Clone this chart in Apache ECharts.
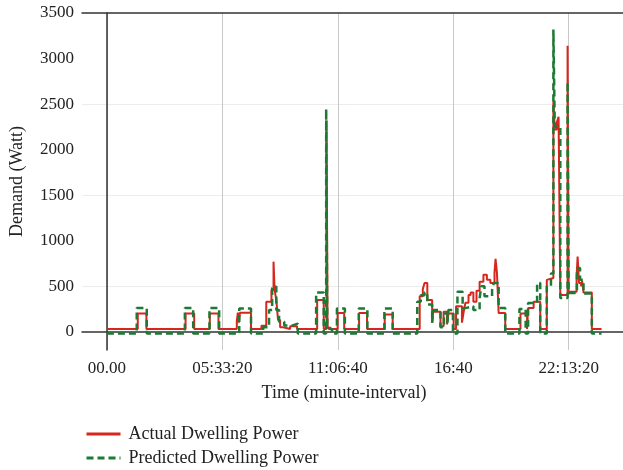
<!DOCTYPE html>
<html>
<head>
<meta charset="utf-8">
<script src="https://cdn.jsdelivr.net/npm/echarts@6/dist/echarts.min.js"></script>
<style>
  html, body { margin: 0; padding: 0; background: #ffffff; }
  #chart { width: 623px; height: 470px; }
</style>
</head>
<body>
<div id="chart"></div>
<script>
// Household power demand over one day: measured vs. model output (W).
// Each entry marks the time (HH:MM) at which a new level begins.
const actualTimes = [
  '00:00','01:29','01:54','03:47','04:12','04:57','05:22','06:15','06:18','06:21',
  '06:24','06:56','07:26','07:40','07:55','08:01','08:04','08:09','08:14','08:20',
  '08:29','08:49','09:09','10:07','10:26','10:34','10:37','10:41','11:06','11:25',
  '12:08','12:31','13:22','13:45','15:03','15:12','15:17','15:25','15:39','15:42',
  '16:03','16:12','16:22','16:26','16:41','16:48','17:05','17:10','17:15','17:24',
  '17:30','17:38','17:47','17:56','18:07','18:17','18:27','18:39','18:42','18:46',
  '18:51','19:10','19:54','20:13','20:16','20:32','20:51','21:10','21:15','21:29',
  '21:33','21:39','21:44','21:49','22:10','22:13','22:36','22:39','22:43','22:49',
  '22:52','22:56','23:20','23:48'
];
const actualWatts = [
  30, 200, 30, 200, 30, 200, 30, 120, 210, 100,
  210, 30, 65, 330, 460, 770, 460, 350, 130, 50,
  30, 60, 30, 350, 30, 2320, 60, 30, 205, 30,
  205, 30, 190, 30, 390, 470, 535, 350, 100, 220,
  60, 220, 80, 200, 30, 280, 100, 220, 320, 405,
  430, 330, 450, 550, 625, 570, 535, 650, 800, 650,
  205, 30, 200, 30, 260, 330, 30, 570, 590, 2545,
  2220, 2300, 2360, 405, 3140, 440, 600, 825, 535, 500,
  560, 430, 30, 30
];

const predictedTimes = [
  '00:00','01:26','01:55','03:45','04:09','04:56','05:24','06:22','06:56','07:31',
  '07:48','07:57','08:03','08:09','08:17','08:32','08:56','09:11','10:04','10:26',
  '10:33','10:36','10:44','10:50','11:04','11:27','12:07','12:32','13:21','13:45',
  '14:56','15:06','15:17','15:25','15:39','15:42','16:03','16:13','16:23','16:26',
  '16:39','16:52','17:07','17:15','17:38','17:56','18:01','18:10','18:32','18:37',
  '18:51','19:10','19:51','20:09','20:16','20:42','20:51','21:10','21:22','21:29',
  '21:33','21:49','22:10','22:13','22:37','22:46','22:56','23:20','23:48'
];
const predictedWatts = [
  -20, 260, -20, 260, -20, 260, -20, 255, -20, 50,
  240, 480, 500, 240, 110, 70, 90, -20, 430, -20,
  2445, 80, 30, -20, 255, -20, 255, -20, 255, -20,
  330, 400, 430, 300, 100, 240, 50, 200, 100, 240,
  -20, 440, 260, 280, 240, 370, 500, 390, 460, 535,
  260, -20, 250, -20, 315, 535, -20, 500, 640, 3320,
  2250, 370, 2745, 425, 700, 570, 420, -20, -20
];

// Axis ticks (time in seconds since midnight, demand in W)
const timeTicks = [0, 20000, 40000, 60000, 80000];
const timeTickLabels = ['00.00', '05:33:20', '11:06:40', '16:40', '22:13:20'];
const demandTicks = [0, 500, 1000, 1500, 2000, 2500, 3000, 3500];
const demandGridLines = [500, 1500, 2500];

const SERIES_NAMES = ['Actual Dwelling Power', 'Predicted Dwelling Power'];

function toSeconds(hhmm) {
  const [h, m] = hhmm.split(':').map(Number);
  return h * 3600 + m * 60;
}
function pairs(times, values) {
  return times.map((t, i) => [toSeconds(t), values[i]]);
}

const FONT = '"Liberation Serif", "DejaVu Serif", serif';
const X_MIN = -4320, X_MAX = 89400;

function legendRow(name, top) {
  return {
    orient: 'vertical',
    left: 80,
    top: top,
    itemWidth: 34,
    itemHeight: 14,
    itemStyle: { opacity: 0 },
    lineStyle: { width: 3 },
    textStyle: { fontFamily: FONT, fontSize: 18, color: '#222', padding: [0, 0, 0, 3] },
    data: [name]
  };
}

const chart = echarts.init(document.getElementById('chart'), null, { renderer: 'canvas' });
chart.setOption({
  animation: false,
  backgroundColor: '#ffffff',
  grid: { left: 80, right: 0, top: 13, bottom: 120 },
  xAxis: [
    {
      type: 'value',
      min: X_MIN,
      max: X_MAX,
      name: 'Time (minute-interval)',
      nameLocation: 'middle',
      nameGap: 34,
      nameTextStyle: { fontFamily: FONT, fontSize: 18, color: '#222', padding: [0, 17, 0, 0] },
      axisLine: { show: true, lineStyle: { color: '#333', width: 1.5 } },
      axisTick: { show: false, customValues: timeTicks },
      axisLabel: {
        customValues: timeTicks,
        margin: 10,
        fontFamily: FONT,
        fontSize: 17,
        color: '#222',
        formatter: v => timeTickLabels[timeTicks.indexOf(v)] ?? ''
      },
      splitLine: { show: true, lineStyle: { color: '#c8c8c8', width: 1 } }
    },
    {
      type: 'value',
      position: 'top',
      min: X_MIN,
      max: X_MAX,
      axisLine: { show: true, lineStyle: { color: '#333', width: 1.5 } },
      axisTick: { show: false },
      axisLabel: { show: false },
      splitLine: { show: false }
    }
  ],
  yAxis: {
    type: 'value',
    min: -200,
    max: 3500,
    name: 'Demand (Watt)',
    nameLocation: 'middle',
    nameGap: 56,
    nameTextStyle: { fontFamily: FONT, fontSize: 18, color: '#222' },
    axisLine: { show: true, lineStyle: { color: '#333', width: 1.5 } },
    axisTick: { show: false, customValues: demandGridLines },
    axisLabel: {
      customValues: demandTicks,
      margin: 8,
      fontFamily: FONT,
      fontSize: 17,
      color: '#222',
      formatter: v => String(v)
    },
    splitLine: { show: true, lineStyle: { color: '#ececec', width: 1 } }
  },
  legend: [legendRow(SERIES_NAMES[0], 420), legendRow(SERIES_NAMES[1], 444)],
  series: [
    {
      name: SERIES_NAMES[0],
      type: 'line',
      step: 'end',
      symbol: 'none',
      showSymbol: false,
      data: pairs(actualTimes, actualWatts),
      lineStyle: { color: '#d7261e', width: 2 },
      itemStyle: { color: '#d7261e' },
      z: 2
    },
    {
      name: SERIES_NAMES[1],
      type: 'line',
      step: 'end',
      symbol: 'none',
      showSymbol: false,
      data: pairs(predictedTimes, predictedWatts),
      lineStyle: { color: '#1d7a34', width: 2.5, type: [7, 4] },
      itemStyle: { color: '#1d7a34' },
      z: 3
    }
  ]
});
</script>
</body>
</html>
